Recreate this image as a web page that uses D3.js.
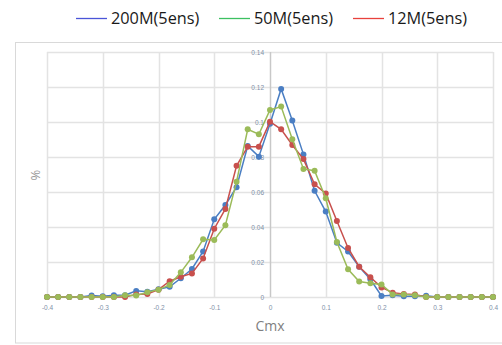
<!DOCTYPE html>
<html><head><meta charset="utf-8">
<script src="https://cdn.jsdelivr.net/npm/d3@7"></script>
<style>body{margin:0;background:#fff;} svg{display:block;}</style>
</head><body>
<svg id="c" width="502" height="345"></svg>
<script>
const xs = d3.range(41).map(i => +(-0.4 + i*0.02).toFixed(2));
const blue200 = [0,0,0,0,0.0008,0.0005,0.001,0.001,0.0035,0.003,0.0044,0.0058,0.0107,0.016,0.026,0.0444,0.0526,0.0627,0.0863,0.0802,0.099,0.1189,0.1008,0.0815,0.0607,0.0488,0.031,0.026,0.0173,0.0101,0.0006,0.001,0.0005,0.0005,0.0007,0,0,0,0,0,0];
const green50 = [0,0,0,0,0,0,0,0.001,0.0008,0.0027,0.0042,0.0069,0.0141,0.0227,0.033,0.0326,0.041,0.0659,0.0958,0.093,0.1069,0.1088,0.0901,0.0732,0.0722,0.0564,0.0314,0.0158,0.0088,0.0078,0.0072,0.0015,0.0015,0.001,0,0,0,0,0,0,0];
const red12 = [0,0,0,0,0,0,0,0,0.0015,0.0017,0.0042,0.009,0.0116,0.0135,0.022,0.039,0.0503,0.075,0.0859,0.0859,0.1002,0.0958,0.0869,0.0788,0.0644,0.0592,0.0434,0.028,0.0173,0.0113,0.0055,0.0025,0.0017,0.0015,0,0,0,0,0,0,0];
const series = [
  {name:"200M(5ens)", values: blue200, line:"#4a7ec3", legend:"#4a55d8"},
  {name:"50M(5ens)", values: green50, line:"#9bbb59", legend:"#3cc061"},
  {name:"12M(5ens)", values: red12, line:"#c8504d", legend:"#e8413c"}
];
const drawOrder = [0,2,1];
const xTicks = [-0.4,-0.3,-0.2,-0.1,0,0.1,0.2,0.3,0.4];
const yTicks = [0,0.02,0.04,0.06,0.08,0.1,0.12,0.14];

const svg = d3.select("#c");
const x = d3.scaleLinear().domain([-0.4,0.4]).range([47,493]);
const y = d3.scaleLinear().domain([0,0.14]).range([297,52]);

// outer frame
svg.append("rect").attr("x",15.5).attr("y",42.5).attr("width",500).attr("height",300.5)
  .attr("fill","none").attr("stroke","#d9d9d9");

// gridlines
const g = svg.append("g");
g.selectAll(".hg").data(yTicks).join("line")
  .attr("x1",x(-0.4)).attr("x2",x(0.4)).attr("y1",d=>Math.round(y(d))+0.5).attr("y2",d=>Math.round(y(d))+0.5)
  .attr("stroke","#e3e3e3").attr("stroke-width",1.5);
g.selectAll(".vg").data(xTicks).join("line")
  .attr("y1",y(0)).attr("y2",y(0.14)).attr("x1",d=>Math.round(x(d))+0.5).attr("x2",d=>Math.round(x(d))+0.5)
  .attr("stroke",d=>d===0?"#c8c8c8":"#e3e3e3").attr("stroke-width",1.5);

// x tick labels
const xAxis = d3.axisBottom(x).tickValues(xTicks).tickSize(0).tickFormat(d=>String(d));
const xa = svg.append("g").attr("transform",`translate(0,${y(0)+5})`).call(xAxis);
xa.select(".domain").remove();
xa.selectAll("text").attr("fill","#8090a8").style("font-family","Liberation Sans, Arial").style("font-size","6.5px");

// y tick labels next to center axis
const yAxis = d3.axisLeft(y).tickValues(yTicks).tickSize(0).tickFormat(d=>String(+d.toFixed(2)));
const ya = svg.append("g").attr("transform",`translate(${x(0)-3},0)`).call(yAxis);
ya.select(".domain").remove();
ya.selectAll("text").attr("fill","#8090a8").style("font-family","Liberation Sans, Arial").style("font-size","6.5px");

// lines and markers
const line = d3.line().x((d,i)=>x(xs[i])).y(d=>y(d));
drawOrder.forEach(k=>{
  const s = series[k];
  const gs = svg.append("g");
  gs.append("path").attr("d",line(s.values)).attr("fill","none").attr("stroke",s.line).attr("stroke-width",1.5);
  gs.selectAll("circle").data(s.values).join("circle")
    .attr("cx",(d,i)=>x(xs[i])).attr("cy",d=>y(d)).attr("r",3).attr("fill",s.line);
});

// axis titles
svg.append("text").attr("x",x(0)).attr("y",331).attr("text-anchor","middle")
  .attr("fill","#7f7f7f").style("font-family","Open Sans, Liberation Sans").style("font-size","14px").text("Cmx");
svg.append("text").attr("transform","translate(40,175) rotate(-90)").attr("text-anchor","middle")
  .attr("fill","#9a9a9a").style("font-family","Open Sans, Liberation Sans").style("font-size","13px").text("%");

// legend
const legX = [76,219,353];
const lg = svg.append("g");
series.forEach((s,i)=>{
  lg.append("line").attr("x1",legX[i]).attr("x2",legX[i]+31).attr("y1",18.5).attr("y2",18.5)
    .attr("stroke",s.legend).attr("stroke-width",1.3);
  lg.append("text").attr("x",legX[i]+35).attr("y",24).attr("fill","#1a1a1a")
    .style("font-family","Open Sans, Liberation Sans").style("font-size","16.3px").text(s.name);
});
</script>
</body></html>
